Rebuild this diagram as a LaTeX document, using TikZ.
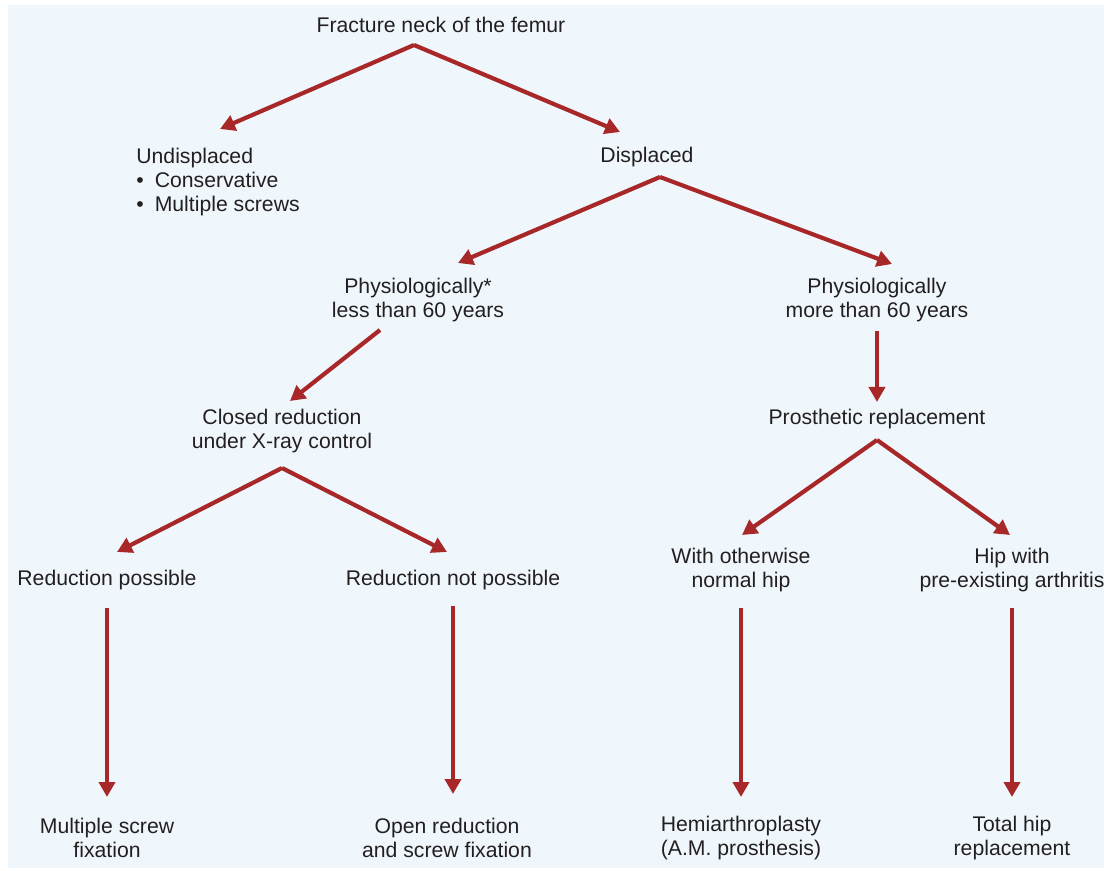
\documentclass[tikz,border=0pt]{standalone}
\usepackage{fontspec}
\setmainfont{Liberation Sans}
\usetikzlibrary{arrows.meta}
\definecolor{bgblue}{HTML}{EFF7FC}
\definecolor{arrred}{HTML}{A8282A}
\definecolor{txt}{HTML}{231F20}
\begin{document}
\begin{tikzpicture}[x=0.5pt,y=-0.5pt,
  lbl/.style={inner sep=0pt,align=center,text=txt,font=\fontsize{10.6}{12}\selectfont},
  arr/.style={draw=arrred,line width=2.1pt,-{Triangle[length=7.5pt,width=8pt]}}]
\useasboundingbox (0,0) rectangle (1104,871);
\fill[bgblue] (8,5) rectangle (1104,868);
% nodes
\node[lbl] (top) at (441,25) {Fracture neck of the femur};
\node[lbl,align=left,anchor=north west] (und) at (136,148) {Undisplaced\\[0pt]\textbullet\hspace{5.5pt}Conservative\\\textbullet\hspace{5.5pt}Multiple screws};
\node[lbl] (disp) at (647,157) {Displaced};
\node[lbl] (less) at (418,300) {Physiologically*\\less than 60 years};
\node[lbl] (more) at (877,300) {Physiologically\\more than 60 years};
\node[lbl] (closed) at (282,431) {Closed reduction\\under X-ray control};
\node[lbl] (pros) at (877,419) {Prosthetic replacement};
\node[lbl] (rpos) at (107,580) {Reduction possible};
\node[lbl] (rnot) at (453,580) {Reduction not possible};
\node[lbl] (norm) at (741,570) {With otherwise\\normal hip};
\node[lbl] (arth) at (1012,570) {Hip with\\pre-existing arthritis};
\node[lbl] (msf) at (107,838) {Multiple screw\\fixation};
\node[lbl] (orf) at (447,838) {Open reduction\\and screw fixation};
\node[lbl] (hemi) at (741,838) {Hemiarthroplasty\\(A.M. prosthesis)};
\node[lbl] (thr) at (1012,838) {Total hip\\replacement};
% connector end points
\coordinate (topA) at (414,45);
\coordinate (undT) at (220,129);
\coordinate (dispT) at (620,132);
\coordinate (dispA) at (660,177);
\coordinate (lessT) at (458,263);
\coordinate (moreT) at (892,264);
\coordinate (lessA) at (380,330);
\coordinate (closedT) at (290,401);
\coordinate (moreA) at (877,331);
\coordinate (prosT) at (877,402);
\coordinate (closedA) at (282,468);
\coordinate (rposT) at (117,552);
\coordinate (rnotT) at (447,552);
\coordinate (prosA) at (877,440);
\coordinate (normT) at (742,535);
\coordinate (arthT) at (1010,535);
\coordinate (rposA) at (107,608);
\coordinate (msfT) at (107,797);
\coordinate (rnotA) at (453,606);
\coordinate (orfT) at (453,794);
\coordinate (normA) at (741,608);
\coordinate (hemiT) at (741,797);
\coordinate (arthA) at (1012,608);
\coordinate (thrT) at (1012,797);
% connectors
\draw[arr] (topA) -- (undT);
\draw[arr] (topA) -- (dispT);
\draw[arr] (dispA) -- (lessT);
\draw[arr] (dispA) -- (moreT);
\draw[arr] (lessA) -- (closedT);
\draw[arr] (moreA) -- (prosT);
\draw[arr] (closedA) -- (rposT);
\draw[arr] (closedA) -- (rnotT);
\draw[arr] (prosA) -- (normT);
\draw[arr] (prosA) -- (arthT);
\draw[arr] (rposA) -- (msfT);
\draw[arr] (rnotA) -- (orfT);
\draw[arr] (normA) -- (hemiT);
\draw[arr] (arthA) -- (thrT);
\end{tikzpicture}
\end{document}
